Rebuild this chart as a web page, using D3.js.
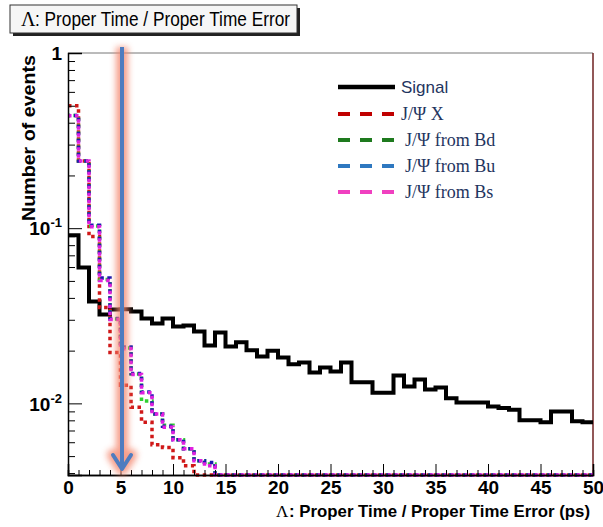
<!DOCTYPE html>
<html>
<head>
<meta charset="utf-8">
<script src="https://cdn.jsdelivr.net/npm/d3@7"></script>
<style>
  body { margin: 0; background: #fff; }
</style>
</head>
<body>
<svg id="chart" width="603" height="527" font-family="Liberation Sans, Arial, sans-serif"></svg>
<script>
// bin contents (bin width 1 ps, 0..50)
const signal = [0.091, 0.0596, 0.0381, 0.0322, 0.0343, 0.0345, 0.0335, 0.0305, 0.0286, 0.0305,
                0.0275, 0.0278, 0.0257, 0.0214, 0.0254, 0.0211, 0.0223, 0.0201, 0.0185, 0.0200,
                0.0183, 0.0167, 0.0171, 0.0150, 0.0160, 0.0152, 0.0171, 0.0132, 0.0132, 0.0115,
                0.0115, 0.0144, 0.0125, 0.0137, 0.0120, 0.0123, 0.0107, 0.0101, 0.0101, 0.0101,
                0.0096, 0.0094, 0.0092, 0.0080, 0.0080, 0.0078, 0.0090, 0.0090, 0.0079, 0.0078];
const jpsiX  = [0.50, 0.242, 0.0895, 0.0352, 0.0195, 0.0127, 0.0095, 0.0078, 0.0058, 0.0056,
                0.0049, 0.0044].concat(d3.range(38).map(() => 0));
const jpsiBd = [0.44, 0.242, 0.103, 0.051, 0.0303, 0.0207, 0.0147, 0.0103, 0.0087, 0.0075,
                0.0062, 0.0055, 0.0047, 0.0045].concat(d3.range(36).map(() => 0));
const jpsiBu = [0.44, 0.242, 0.104, 0.052, 0.0305, 0.021, 0.0148, 0.0116, 0.0087, 0.0074,
                0.0062, 0.0055, 0.0047, 0.0046].concat(d3.range(36).map(() => 0));
const jpsiBs = [0.438, 0.242, 0.102, 0.0502, 0.0301, 0.0205, 0.0146, 0.0115, 0.0087, 0.0073,
                0.0062, 0.0055, 0.0047, 0.0044].concat(d3.range(36).map(() => 0));

const seriesNames = ["Signal", "J/\u03A8 X", "J/\u03A8 from Bd", "J/\u03A8 from Bu", "J/\u03A8 from Bs"];
const xTicks = d3.range(0, 51, 5);
const yMajor = [1, 0.1, 0.01];
const cutValue = 5;

const SANS = "Liberation Sans, Arial, sans-serif";
const SERIF = "Liberation Serif, Times New Roman, serif";

const svg = d3.select("#chart");
const yMin = 0.0039;

// scales
const x = d3.scaleLinear().domain([0, 50]).range([68, 593]);
const y = d3.scaleLog().domain([yMin, 1]).range([475, 53]);

// title box
svg.append("rect").attr("x", 13).attr("y", 8).attr("width", 287).attr("height", 28).attr("fill", "#222");
svg.append("rect").attr("x", 10).attr("y", 5).attr("width", 287).attr("height", 28)
    .attr("fill", "#f6f6f6").attr("stroke", "#333").attr("stroke-width", 1);
svg.append("text").attr("x", 21).attr("y", 26).attr("font-size", 20)
    .attr("font-family", SERIF).text("\u039B");
svg.append("text").attr("x", 35).attr("y", 26).attr("font-size", 20)
    .attr("textLength", 255).attr("lengthAdjust", "spacingAndGlyphs")
    .text(": Proper Time / Proper Time Error");

// frame
svg.append("line").attr("x1", x(0)).attr("x2", x(50)).attr("y1", y(1)).attr("y2", y(1))
    .attr("stroke", "#777").attr("stroke-width", 1);
svg.append("line").attr("x1", x(50)).attr("x2", x(50)).attr("y1", y(1)).attr("y2", y(yMin))
    .attr("stroke", "#6e2020").attr("stroke-width", 1.5);

// histograms
const histLine = d3.line()
    .x(d => x(d[0]))
    .y(d => y(Math.max(d[1], yMin)))
    .curve(d3.curveStepAfter);
const toPts = vals => vals.map((v, i) => [i, v]).concat([[50, vals[vals.length - 1]]]);

const series = [
    {vals: signal, color: "#000", width: 4, dash: null, off: 0},
    {vals: jpsiX, color: "#d01818", width: 3.5, dash: "3.5,3.5", off: 0},
    {vals: jpsiBd, color: "#30d030", width: 3.5, dash: "3.5,3.5", off: 1.5},
    {vals: jpsiBu, color: "#1a1ab0", width: 3.5, dash: "3.5,3.5", off: 1.2},
    {vals: jpsiBs, color: "#e020e0", width: 3.5, dash: "3.5,3.5", off: 0}
];
svg.append("g").selectAll("path")
    .data(series).enter()
    .append("path")
    .attr("d", d => histLine(toPts(d.vals)))
    .attr("fill", "none")
    .attr("stroke", d => d.color)
    .attr("stroke-width", d => d.width)
    .attr("stroke-dasharray", d => d.dash)
    .attr("stroke-dashoffset", d => d.off);

// axis_x
svg.append("g").attr("transform", `translate(0,${y(yMin)})`)
    .call(d3.axisBottom(x).tickValues(d3.range(0, 51).filter(v => v % 5)).tickSize(-5).tickFormat(""));
svg.append("g").attr("transform", `translate(0,${y(yMin)})`)
    .call(d3.axisBottom(x).tickValues(xTicks).tickSize(-11).tickPadding(6).tickFormat(d3.format("d")))
    .call(g => g.selectAll(".tick text").attr("font-size", 19).attr("font-weight", "bold")
        .attr("font-family", SANS).attr("fill", "#000"));
svg.selectAll(".domain").attr("stroke", "#000").attr("stroke-width", 1.5);
svg.selectAll(".tick line").attr("stroke", "#000");

// axis_y
const yMinor = [];
[0.001, 0.01, 0.1].forEach(dec => d3.range(2, 10).forEach(k => { if (k * dec >= yMin) yMinor.push(k * dec); }));
svg.append("g").attr("transform", `translate(${x(0)},0)`)
    .call(d3.axisLeft(y).tickValues(yMinor).tickSize(-7).tickFormat(""))
    .call(g => g.select(".domain").remove())
    .call(g => g.selectAll(".tick line").attr("stroke", "#000"));
const axisY = svg.append("g").attr("transform", `translate(${x(0)},0)`)
    .call(d3.axisLeft(y).tickValues(yMajor).tickSize(-14).tickPadding(6).tickFormat(""));
axisY.select(".domain").attr("stroke", "#000").attr("stroke-width", 1.5);
axisY.selectAll(".tick line").attr("stroke", "#000");
axisY.selectAll(".tick").append("text")
    .attr("x", -6).attr("dy", "0.35em").attr("text-anchor", "end")
    .attr("font-size", 19).attr("font-weight", "bold").attr("fill", "#000")
    .each(function(d) {
        const t = d3.select(this);
        if (d === 1) { t.text("1"); return; }
        t.append("tspan").text("10");
        t.append("tspan").attr("font-size", 13).attr("dy", -8).text(String(Math.round(Math.log10(d))));
    });

// axis titles
svg.append("text").attr("x", 276).attr("y", 517).attr("font-size", 17)
    .attr("font-family", SERIF).text("\u039B");
svg.append("text").attr("x", 590).attr("y", 517).attr("text-anchor", "end")
    .attr("font-size", 17).attr("font-weight", "bold")
    .attr("textLength", 301).attr("lengthAdjust", "spacingAndGlyphs")
    .text(": Proper Time / Proper Time Error (ps)");
svg.append("text").attr("transform", "translate(35,138) rotate(-90)").attr("text-anchor", "middle")
    .attr("font-size", 18).attr("font-weight", "bold")
    .attr("textLength", 166).attr("lengthAdjust", "spacingAndGlyphs")
    .text("Number of events");

// cut arrow
const defs = svg.append("defs");
defs.append("filter").attr("id", "glow").attr("filterUnits", "userSpaceOnUse")
    .attr("x", 90).attr("y", 30).attr("width", 70).attr("height", 460)
    .append("feGaussianBlur").attr("stdDeviation", 3);
const ax = x(cutValue) + 1.5;
const glow = svg.append("g").attr("filter", "url(#glow)").attr("opacity", 0.8);
const arrow = svg.append("g");
[{g: glow, c: "#f4876e", w: 12}, {g: arrow, c: "#4f7cbf", w: 4}].forEach(s => {
    s.g.append("line").attr("x1", ax).attr("x2", ax).attr("y1", 47).attr("y2", 468)
        .attr("stroke", s.c).attr("stroke-width", s.w);
    s.g.append("polyline").attr("points", `${ax - 9},455 ${ax},469 ${ax + 9},455`)
        .attr("fill", "none").attr("stroke", s.c).attr("stroke-width", s.w)
        .attr("stroke-linecap", "round").attr("stroke-linejoin", "round");
});

// legend
const legendColors = ["#000", "#c00000", "#1e7a1e", "#2e78c0", "#f040c0"];
const legendY = [87, 114, 140, 166, 192];
const legend = svg.append("g").selectAll("g")
    .data(seriesNames).enter()
    .append("g")
    .attr("transform", (d, i) => `translate(0,${legendY[i]})`);
legend.append("line").attr("x1", 338).attr("x2", 395)
    .attr("stroke", (d, i) => legendColors[i])
    .attr("stroke-width", (d, i) => i ? 4 : 4.5)
    .attr("stroke-dasharray", (d, i) => i ? "12,10" : null);
legend.append("text")
    .attr("x", (d, i) => i < 2 ? 401 : 405).attr("y", 6)
    .attr("font-size", (d, i) => i ? 18 : 17)
    .attr("font-family", (d, i) => i ? SERIF : SANS)
    .attr("fill", "#1f3560")
    .text(d => d);
</script>
</body>
</html>
